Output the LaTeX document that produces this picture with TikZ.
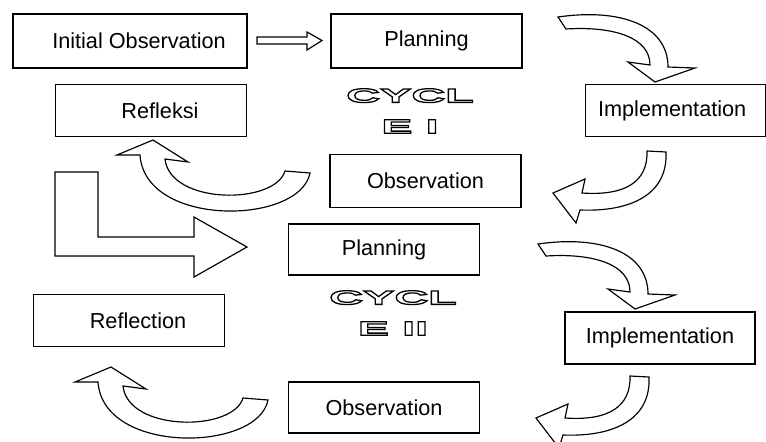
\documentclass[tikz,border=0pt]{standalone}
\usepackage{fontspec}
\setmainfont{Liberation Sans}
\newfontfamily\cyclefont[FakeStretch=2.4]{Liberation Sans Bold}
\newcommand\hollowtext[1]{\special{pdf:literal direct 1 Tr 1.1 w}#1\special{pdf:literal direct 0 Tr}}
% block arrow outlines, in pixel units
\newcommand\turnsouth{(558,17) .. controls (620,8) and (668,25) .. (668,67) -- (695,68) -- (655,82) -- (628,62) -- (650,65) .. controls (650,38) and (615,26) .. (566,29) -- cycle}
\newcommand\turnwest{(647,151) -- (666,152) .. controls (668,195) and (630,212) .. (580,210) -- (576,223) -- (553,193) -- (585,179) -- (582,193) .. controls (625,196) and (648,182) .. (647,151) -- cycle}
\newcommand\turnnorth{(285,171) -- (310,173) .. controls (300,225) and (145,228) .. (140,155) -- (117,155) -- (153,140) -- (188,162) -- (165,159) .. controls (170,205) and (275,205) .. (285,171) -- cycle}
\tikzset{stage/.style={draw,line width=1.1pt,minimum width=5.73cm,minimum height=1.58cm,inner sep=0pt,font=\fontsize{18.5}{22}\selectfont},
blockarrow/.style={draw,line width=1pt,fill=white,line join=miter},
cyclelabel/.style={align=center,inner sep=0pt,font=\cyclefont\fontsize{16.7}{26.4}\selectfont}}
\begin{document}
\begin{tikzpicture}[x=.03cm,y=-.03cm]
\useasboundingbox (0,0) rectangle (766,441);
% cycle I
\node[stage,minimum width=7.02cm,minimum height=1.62cm] (init) at (130,41) {\hspace*{.54cm}Initial Observation};
\node[stage,minimum height=1.62cm] (plan1) at (426.5,41) {Planning};
\node[stage] (refl1) at (151,110.5) {\hspace*{.54cm}Refleksi};
\node[stage,minimum width=5.4cm] (impl1) at (675.5,110.5) {Implementation\hspace*{.2cm}};
\node[stage] (obs1) at (425.5,181) {Observation};
\node[cyclelabel] (cyc1) at (410,111) {\hollowtext{CYCL\\E I}};
\draw[blockarrow] (257,37)--(307,37)--(307,32)--(322,40.5)--(307,50)--(307,44)--(257,44)--cycle;
\draw[blockarrow] \turnsouth;\draw[blockarrow] \turnwest;\draw[blockarrow] \turnnorth;
% into cycle II
\draw[blockarrow] (55,172)--(98,172)--(98,237)--(194,237)--(194,217)--(247,247)--(194,277)--(194,256)--(55,256)--cycle;
% cycle II
\node[stage,minimum height=1.53cm] (plan2) at (384,249.5) {Planning};
\node[stage] (refl2) at (129,320.5) {\hspace*{.54cm}Reflection};
\node[stage,minimum width=5.7cm,minimum height=1.56cm] (impl2) at (660,338) {Implementation};
\node[stage,minimum height=1.53cm] (obs2) at (384,407.5) {Observation};
\node[cyclelabel] (cyc2) at (393,313) {\hollowtext{CYCL\\E II}};
\draw[blockarrow,shift={(-20,227)}] \turnsouth;\draw[blockarrow,shift={(-17,225)}] \turnwest;\draw[blockarrow,shift={(-42,227)}] \turnnorth;
\end{tikzpicture}
\end{document}
